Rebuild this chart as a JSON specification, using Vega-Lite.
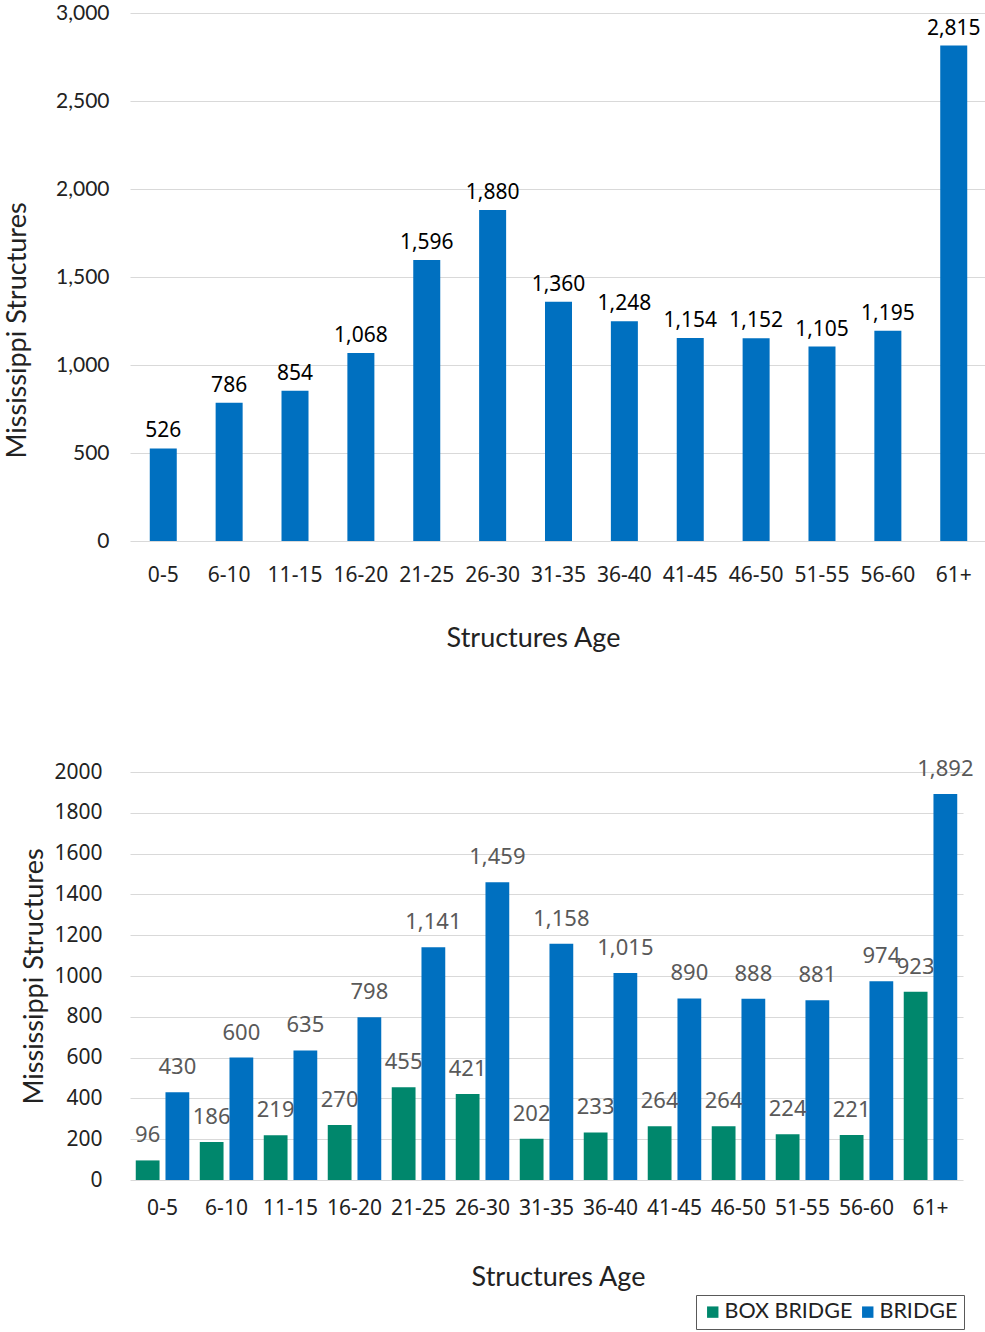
{
  "$schema": "https://vega.github.io/schema/vega-lite/v6.json",
  "padding": {"left": 3, "top": 2, "right": 0, "bottom": 2},
  "background": "white",
  "spacing": 107,
  "config": {
    "view": {"stroke": null},
    "axis": {
      "domain": false,
      "ticks": false,
      "tickSize": 0,
      "gridColor": "#D9D9D9",
      "gridWidth": 1.2,
      "labelFont": "Lato",
      "labelFontSize": 21,
      "labelColor": "#222222",
      "titleFont": "Lato",
      "titleFontSize": 27,
      "titleFontWeight": "normal",
      "titleColor": "#222222"
    }
  },
  "vconcat": [
    {
      "width": 857,
      "height": 528,
      "data": {"values": [
        {"age": "0-5", "count": 526},
        {"age": "6-10", "count": 786},
        {"age": "11-15", "count": 854},
        {"age": "16-20", "count": 1068},
        {"age": "21-25", "count": 1596},
        {"age": "26-30", "count": 1880},
        {"age": "31-35", "count": 1360},
        {"age": "36-40", "count": 1248},
        {"age": "41-45", "count": 1154},
        {"age": "46-50", "count": 1152},
        {"age": "51-55", "count": 1105},
        {"age": "56-60", "count": 1195},
        {"age": "61+", "count": 2815}
      ]},
      "encoding": {
        "x": {
          "field": "age", "type": "nominal", "sort": null,
          "scale": {"paddingInner": 0.59, "paddingOuter": 0.3},
          "axis": {"title": "Structures Age", "labelAngle": 0, "grid": false, "labelPadding": 23, "titlePadding": 40, "titleX": 403, "titleAlign": "center", "labelFont": "Noto Sans", "labelFontSize": 21}
        },
        "y": {
          "field": "count", "type": "quantitative",
          "scale": {"domain": [0, 3000]},
          "axis": {"title": "Mississippi Structures", "values": [0, 500, 1000, 1500, 2000, 2500, 3000], "format": ",.0f", "labelPadding": 21, "titlePadding": 24, "titleY": 317, "titleAlign": "center"}
        }
      },
      "layer": [
        {"mark": {"type": "bar", "color": "#0070C0"}},
        {
          "mark": {"type": "text", "dy": -17, "fontSize": 21, "font": "Noto Sans", "color": "#000000", "baseline": "middle"},
          "encoding": {"text": {"field": "count", "type": "quantitative", "format": ",.0f"}}
        }
      ]
    },
    {
      "width": 833,
      "height": 408,
      "data": {"values": [
        {"age": "0-5", "type": "BOX BRIDGE", "count": 96},
        {"age": "0-5", "type": "BRIDGE", "count": 430},
        {"age": "6-10", "type": "BOX BRIDGE", "count": 186},
        {"age": "6-10", "type": "BRIDGE", "count": 600},
        {"age": "11-15", "type": "BOX BRIDGE", "count": 219},
        {"age": "11-15", "type": "BRIDGE", "count": 635},
        {"age": "16-20", "type": "BOX BRIDGE", "count": 270},
        {"age": "16-20", "type": "BRIDGE", "count": 798},
        {"age": "21-25", "type": "BOX BRIDGE", "count": 455},
        {"age": "21-25", "type": "BRIDGE", "count": 1141},
        {"age": "26-30", "type": "BOX BRIDGE", "count": 421},
        {"age": "26-30", "type": "BRIDGE", "count": 1459},
        {"age": "31-35", "type": "BOX BRIDGE", "count": 202},
        {"age": "31-35", "type": "BRIDGE", "count": 1158},
        {"age": "36-40", "type": "BOX BRIDGE", "count": 233},
        {"age": "36-40", "type": "BRIDGE", "count": 1015},
        {"age": "41-45", "type": "BOX BRIDGE", "count": 264},
        {"age": "41-45", "type": "BRIDGE", "count": 890},
        {"age": "46-50", "type": "BOX BRIDGE", "count": 264},
        {"age": "46-50", "type": "BRIDGE", "count": 888},
        {"age": "51-55", "type": "BOX BRIDGE", "count": 224},
        {"age": "51-55", "type": "BRIDGE", "count": 881},
        {"age": "56-60", "type": "BOX BRIDGE", "count": 221},
        {"age": "56-60", "type": "BRIDGE", "count": 974},
        {"age": "61+", "type": "BOX BRIDGE", "count": 923},
        {"age": "61+", "type": "BRIDGE", "count": 1892}
      ]},
      "encoding": {
        "x": {
          "field": "age", "type": "nominal", "sort": null,
          "scale": {"paddingInner": 0.164, "paddingOuter": 0.09},
          "axis": {"title": "Structures Age", "labelAngle": 0, "grid": false, "labelPadding": 17, "titlePadding": 46, "titleX": 428, "titleAlign": "center", "labelFont": "Noto Sans", "labelFontSize": 21}
        },
        "xOffset": {
          "field": "type", "type": "nominal",
          "sort": ["BOX BRIDGE", "BRIDGE"],
          "scale": {"paddingInner": 0.2, "paddingOuter": 0}
        },
        "y": {
          "field": "count", "type": "quantitative",
          "scale": {"domain": [0, 2000]},
          "axis": {"title": "Mississippi Structures", "values": [0, 200, 400, 600, 800, 1000, 1200, 1400, 1600, 1800, 2000], "format": "d", "labelPadding": 28, "titlePadding": 5, "labelFont": "Noto Sans", "labelFontSize": 21}
        }
      },
      "layer": [
        {
          "mark": {"type": "bar"},
          "encoding": {
            "color": {
              "field": "type", "type": "nominal",
              "scale": {"domain": ["BOX BRIDGE", "BRIDGE"], "range": ["#00876C", "#0070C0"]},
              "legend": {
                "title": null,
                "orient": "none",
                "legendX": 566,
                "legendY": 1282,
                "direction": "horizontal",
                "symbolType": "square",
                "symbolSize": 130,
                "symbolStrokeWidth": 0,
                "labelFont": "Lato",
                "labelFontSize": 21.5,
                "labelColor": "#222222",
                "labelOffset": 1,
                "columnPadding": 4,
                "strokeColor": "#595959",
                "padding": 6
              }
            }
          }
        },
        {
          "mark": {"type": "text", "dy": -25, "fontSize": 22, "font": "Noto Sans", "color": "#595959", "baseline": "middle"},
          "encoding": {"text": {"field": "count", "type": "quantitative", "format": ",.0f"}}
        }
      ]
    }
  ]
}
